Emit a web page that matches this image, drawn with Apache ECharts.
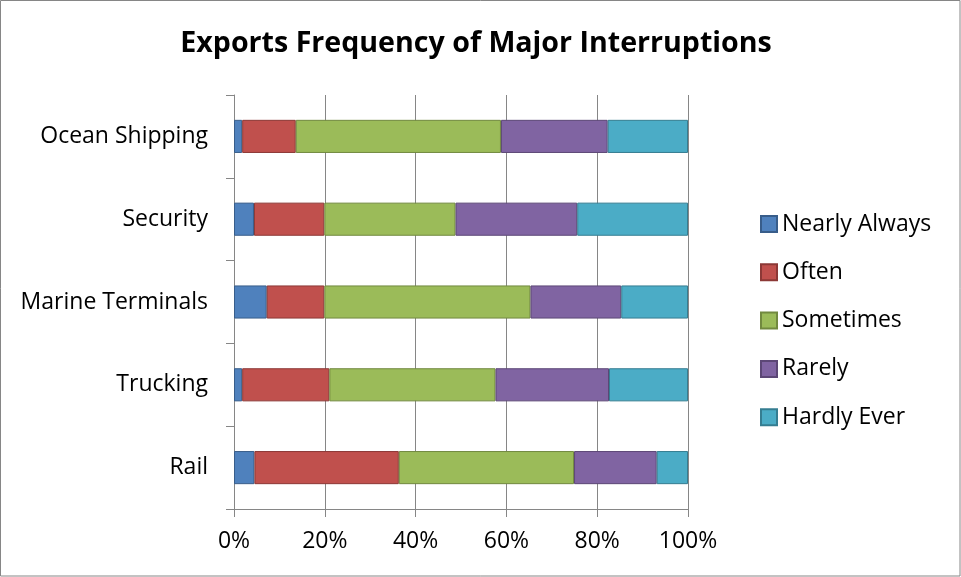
<!DOCTYPE html>
<html>
<head>
<meta charset="utf-8">
<title>Exports Frequency of Major Interruptions</title>
<script src="https://cdn.jsdelivr.net/npm/echarts@6/dist/echarts.min.js"></script>
<style>
  html, body { margin: 0; padding: 0; background: #ffffff; }
  #chart { width: 961px; height: 577px; }
</style>
</head>
<body>
<div id="chart"></div>
<script>
// Modes of transport, listed bottom to top
const categories = ['Rail', 'Trucking', 'Marine Terminals', 'Security', 'Ocean Shipping'];

// Share of respondents (%) per answer
const nearlyAlways = [4.5, 1.8, 7.2, 4.4, 1.8];
const often        = [31.8, 19.2, 12.7, 15.5, 11.8];
const sometimes    = [38.6, 36.6, 45.4, 28.9, 45.2];
const rarely       = [18.2, 25.0, 20.0, 26.8, 23.5];
const hardlyEver   = [6.9, 17.4, 14.7, 24.4, 17.7];

const xTicks = [0, 20, 40, 60, 80, 100];

const FONT = '"Open Sans", "Noto Sans", sans-serif';
const AXIS_GRAY = '#868686';

const seriesDefs = [
  { name: 'Nearly Always', data: nearlyAlways, color: '#4F81BD', border: '#385D8A' },
  { name: 'Often',         data: often,        color: '#C0504D', border: '#8C3836' },
  { name: 'Sometimes',     data: sometimes,    color: '#9BBB59', border: '#71893F' },
  { name: 'Rarely',        data: rarely,       color: '#8064A2', border: '#5C4776' },
  { name: 'Hardly Ever',   data: hardlyEver,   color: '#4BACC6', border: '#357D91' }
];

const chart = echarts.init(document.getElementById('chart'), null, { renderer: 'canvas' });

chart.setOption({
  animation: false,
  backgroundColor: '#ffffff',
  textStyle: { fontFamily: FONT },
  graphic: [{
    type: 'rect',
    shape: { x: 0.5, y: 0.5, width: 959.5, height: 575.5 },
    style: { fill: 'none', stroke: AXIS_GRAY, lineWidth: 1 },
    silent: true,
    z: -1
  }],
  title: {
    text: 'Exports Frequency of Major Interruptions',
    left: 471,
    textAlign: 'center',
    top: 24,
    textStyle: { fontFamily: FONT, fontWeight: 'bold', fontSize: 28.6, color: '#000000' }
  },
  legend: {
    orient: 'vertical',
    left: 760,
    top: 212,
    padding: 0,
    itemWidth: 16,
    itemHeight: 16,
    itemGap: 24.3,
    icon: 'rect',
    textStyle: { fontFamily: FONT, fontSize: 23, color: '#000000', lineHeight: 24 },
    data: seriesDefs.map(s => s.name)
  },
  grid: { left: 234, right: 273, top: 95, bottom: 68, containLabel: false },
  xAxis: {
    type: 'value',
    min: xTicks[0],
    max: xTicks[xTicks.length - 1],
    interval: xTicks[1] - xTicks[0],
    axisLine: { show: true, lineStyle: { color: AXIS_GRAY, width: 1 } },
    axisTick: { show: true, length: 8, lineStyle: { color: AXIS_GRAY } },
    splitLine: { show: true, lineStyle: { color: AXIS_GRAY, width: 1 } },
    axisLabel: {
      formatter: '{value}%',
      margin: 21,
      fontFamily: FONT,
      fontSize: 23,
      color: '#000000'
    }
  },
  yAxis: {
    type: 'category',
    data: categories,
    axisLine: { show: true, lineStyle: { color: AXIS_GRAY, width: 1 } },
    axisTick: { show: true, length: 8, lineStyle: { color: AXIS_GRAY } },
    axisLabel: {
      margin: 26,
      fontFamily: FONT,
      fontSize: 23,
      color: '#000000'
    }
  },
  series: seriesDefs.map(s => ({
    name: s.name,
    type: 'bar',
    stack: 'total',
    barWidth: '40%',
    data: s.data,
    itemStyle: { color: s.color, borderColor: s.border, borderWidth: 1 },
    emphasis: { disabled: true }
  }))
});
</script>
</body>
</html>
